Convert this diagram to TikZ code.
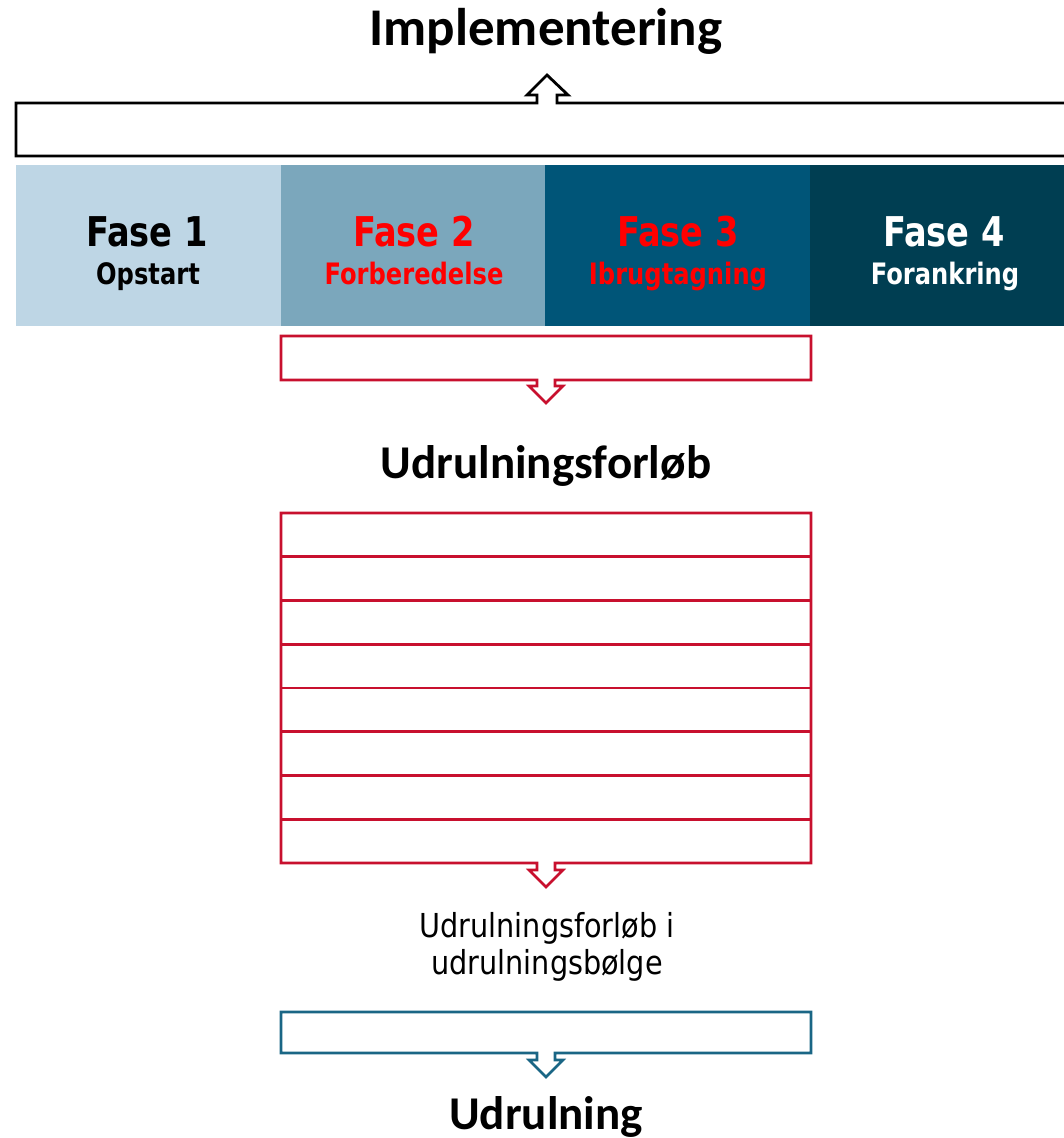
\documentclass[tikz,border=0pt]{standalone}
\usepackage{fontspec}
\newfontfamily\phasefont[FakeStretch=0.82]{DejaVu Sans}
\newfontfamily\bodyfont[FakeStretch=0.87]{DejaVu Sans}
\newfontfamily\titlefont{Carlito}
\definecolor{faseA}{HTML}{BED6E5}
\definecolor{faseB}{HTML}{7BA7BC}
\definecolor{faseC}{HTML}{005578}
\definecolor{faseD}{HTML}{003E52}
\definecolor{redline}{HTML}{C8102E}
\definecolor{redtext}{HTML}{FF0000}
\definecolor{blueline}{HTML}{1A6685}
\begin{document}
\begin{tikzpicture}[x=1pt,y=-1pt,
  title/.style={font=\titlefont\bfseries\fontsize{#1}{52}\selectfont, anchor=base, inner sep=0pt},
  title/.default=47,
  fasetitle/.style={font=\phasefont\bfseries\fontsize{41}{45}\selectfont, anchor=base, inner sep=0pt},
  fasesub/.style={font=\phasefont\bfseries\fontsize{29.5}{32}\selectfont, anchor=base, inner sep=0pt},
  bodytext/.style={font=\bodyfont\fontsize{33}{37}\selectfont, anchor=base, inner sep=0pt},
  outline/.style={line width=2.6pt, line join=miter, draw=#1, fill=white}
]
\useasboundingbox (0,0) rectangle (1064,1138);
\clip (0,0) rectangle (1064,1138);

% top title
\node[title=53] (impl) at (546,45) {Implementering};

% top bar with upward arrow
\draw[outline=black, line width=2.8pt]
  (16,103) -- (537,103) -- (537,95) -- (527,95) -- (547,75) -- (568,95) -- (557,95) -- (557,103)
  -- (1075,103) -- (1075,156) -- (16,156) -- cycle;

% phases
\fill[faseA] (16,165) rectangle (281,326);
\fill[faseB] (281,165) rectangle (545,326);
\fill[faseC] (545,165) rectangle (810,326);
\fill[faseD] (810,165) rectangle (1080,326);

\node[fasetitle] (f1) at (147,246) {Fase 1};
\node[fasesub] (s1) at (148,284) {Opstart};
\node[fasetitle, text=redtext] (f2) at (414,246) {Fase 2};
\node[fasesub, text=redtext] (s2) at (414,284) {Forberedelse};
\node[fasetitle, text=redtext] (f3) at (678,246) {Fase 3};
\node[fasesub, text=redtext] (s3) at (678,284) {Ibrugtagning};
\node[fasetitle, text=white] (f4) at (944,246) {Fase 4};
\node[fasesub, text=white] (s4) at (945,284) {Forankring};

% red box 1 with arrow
\draw[outline=redline]
  (281,336) -- (811,336) -- (811,380) -- (555,380) -- (555,386) -- (563,386) -- (546,403)
  -- (529,386) -- (537,386) -- (537,380) -- (281,380) -- cycle;

\node[title=47] (uf) at (546,478) {Udrulningsforløb};

% stack with arrow
\draw[outline=redline]
  (281,513) -- (811,513) -- (811,863) -- (555,863) -- (555,870) -- (563,870) -- (546,887)
  -- (529,870) -- (537,870) -- (537,863) -- (281,863) -- cycle;
\foreach \i in {1,...,7}{
  \draw[redline, line width=2.6pt] (281,{513+\i*43.75}) -- (811,{513+\i*43.75});
}

\node[bodytext] (t1) at (547,937) {Udrulningsforløb i};
\node[bodytext] (t2) at (547,974) {udrulningsbølge};

% blue box with arrow
\draw[outline=blueline]
  (281,1012) -- (811,1012) -- (811,1053) -- (555,1053) -- (555,1060) -- (563,1060) -- (546,1077)
  -- (529,1060) -- (537,1060) -- (537,1053) -- (281,1053) -- cycle;

\node[title=47] (ud) at (546,1129) {Udrulning};
\end{tikzpicture}
\end{document}
